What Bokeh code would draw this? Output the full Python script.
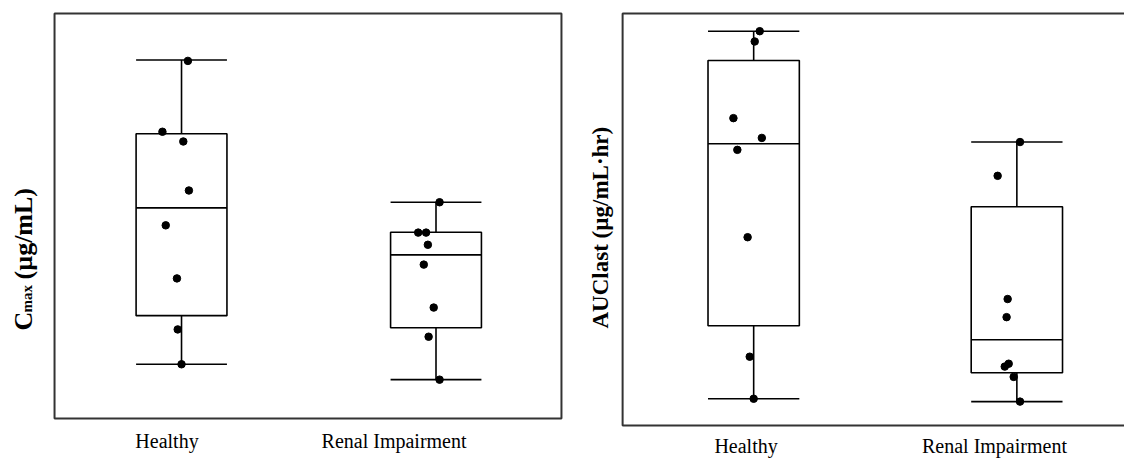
import math
from bokeh.plotting import figure
from bokeh.layouts import row
from bokeh.models import Range1d, FixedTicker, Label, ColumnDataSource, BoxAnnotation
from bokeh.embed import file_html
from bokeh.resources import INLINE

# ---------------- data ----------------
groups = ["Healthy", "Renal Impairment"]
group_pos = [1, 2]

# Cmax panel (arbitrary units, no ticks in original)
cmax_healthy = [8.83, 7.08, 6.84, 5.63, 4.77, 3.46, 2.20, 1.34]
cmax_healthy_jitter = [0.025, -0.075, 0.007, 0.029, -0.062, -0.018, -0.015, 0.0]
cmax_renal = [5.34, 4.59, 4.59, 4.29, 3.80, 2.74, 2.02, 0.96]
cmax_renal_jitter = [0.014, -0.070, -0.039, -0.032, -0.048, -0.009, -0.029, 0.014]
# box stats: lower whisker, q1, median, q3, upper whisker
cmax_stats_healthy = [1.34, 2.54, 5.20, 7.03, 8.85]
cmax_stats_renal = [0.96, 2.24, 4.04, 4.60, 5.34]

# AUClast panel
auc_healthy = [9.57, 9.32, 7.46, 6.98, 6.69, 4.57, 1.67, 0.65]
auc_healthy_jitter = [0.023, 0.004, -0.077, 0.031, -0.062, -0.023, -0.015, 0.0]
auc_renal = [6.88, 6.06, 3.07, 2.63, 1.50, 1.43, 1.18, 0.58]
auc_renal_jitter = [0.012, -0.073, -0.035, -0.039, -0.031, -0.046, -0.012, 0.012]
auc_stats_healthy = [0.65, 2.42, 6.84, 8.86, 9.57]
auc_stats_renal = [0.58, 1.28, 2.08, 5.31, 6.88]

left_tick_labels = ["Healthy", "Renal  Impairment"]
right_tick_labels = ["Healthy", "Renal Impairment"]
left_label_pos = [0.943, 1.845]
right_label_pos = [0.971, 1.915]

FONT = "Liberation Serif"
FRAME = "#333333"
H = 459
TOP_B = 11
BOT_B = 30


def draw_panel(p, stats_list, pts_list, jit_list, bw):
    for pos, st, pts, jit in zip(group_pos, stats_list, pts_list, jit_list):
        lo, q1, med, q3, hi = st
        p.quad(left=[pos - bw / 2], right=[pos + bw / 2], top=[q3], bottom=[q1],
               fill_color="white", line_color="black", line_width=1.6)
        p.segment(x0=[pos - bw / 2], x1=[pos + bw / 2], y0=[med], y1=[med],
                  line_color="black", line_width=1.6)
        p.segment(x0=[pos, pos], x1=[pos, pos], y0=[q3, q1], y1=[hi, lo],
                  line_color="black", line_width=1.6)
        p.segment(x0=[pos - bw / 2, pos - bw / 2], x1=[pos + bw / 2, pos + bw / 2],
                  y0=[hi, lo], y1=[hi, lo], line_color="black", line_width=1.6)
        src = ColumnDataSource(dict(x=[pos + j for j in jit], y=pts))
        p.scatter("x", "y", source=src, size=7.5, color="black")


def style_xaxis(ax, ticks, labels, standoff):
    ax.ticker = FixedTicker(ticks=ticks)
    ax.major_label_overrides = {t: l for t, l in zip(ticks, labels)}
    ax.axis_line_color = None
    ax.major_tick_line_color = None
    ax.minor_tick_line_color = None
    ax.major_tick_out = 0
    ax.major_tick_in = 0
    ax.major_label_standoff = standoff
    ax.major_label_text_font = FONT
    ax.major_label_text_font_size = "20px"
    ax.major_label_text_color = "black"


def label_strip(width):
    f = figure(width=width, height=H, x_range=Range1d(0, 1), y_range=Range1d(0, 1),
               output_backend="svg", toolbar_location=None,
               x_axis_location=None, y_axis_location=None,
               min_border_left=0, min_border_right=0,
               min_border_top=TOP_B, min_border_bottom=BOT_B)
    f.grid.visible = False
    f.outline_line_color = None
    return f


def ylabel(p, x, y, text, size):
    p.add_layout(Label(x=x, y=y, x_units="screen", y_units="screen", text=text,
                       angle=math.pi / 2, text_align="left", text_baseline="middle",
                       text_font=FONT, text_font_style="bold", text_font_size=size,
                       text_color="black"))


def panel(width, xr, yr, bl, br):
    p = figure(width=width, height=H, x_range=Range1d(*xr), y_range=Range1d(*yr),
               output_backend="svg", toolbar_location=None,
               min_border_left=bl, min_border_right=br,
               min_border_top=TOP_B, min_border_bottom=BOT_B)
    p.grid.visible = False
    p.yaxis.visible = False
    p.outline_line_color = None
    return p


def frame_box(p, left, right, bottom, top):
    p.add_layout(BoxAnnotation(left=left, right=right, bottom=bottom, top=top,
                               fill_color=None, fill_alpha=0, line_color=FRAME,
                               line_alpha=1.0, line_width=2))


FB = H - BOT_B  # frame bottom in page pixels

# ---------------- left y-label strip ----------------
lab1 = label_strip(50)
ylabel(lab1, 23, FB - 332, "C", "26px")
ylabel(lab1, 26, FB - 314, "max", "15px")
ylabel(lab1, 23, FB - 281, "(µg/mL)", "26px")

# ---------------- left panel ----------------
p1 = panel(530, (0.493, 2.501), (-0.221, 10.049), 2, 17)
style_xaxis(p1.xaxis[0], left_label_pos, left_tick_labels, 2)
draw_panel(p1, [cmax_stats_healthy, cmax_stats_renal], [cmax_healthy, cmax_renal],
           [cmax_healthy_jitter, cmax_renal_jitter], 0.357)
frame_box(p1, 0.501, 2.493, 0, 10)

# ---------------- right y-label strip ----------------
lab2 = label_strip(38)
ylabel(lab2, 20, FB - 330, "AUClast (µg/mL·hr)", "23px")

# ---------------- right panel ----------------
p2 = panel(506, (0.494, 2.409), (-0.048, 10.048), 2, 0)
style_xaxis(p2.xaxis[0], right_label_pos, right_tick_labels, 7)
draw_panel(p2, [auc_stats_healthy, auc_stats_renal], [auc_healthy, auc_renal],
           [auc_healthy_jitter, auc_renal_jitter], 0.347)
frame_box(p2, 0.502, 3.5, 0, 10)

layout = row(lab1, p1, lab2, p2, spacing=0)
open("out.html", "w").write(file_html(layout, INLINE))
